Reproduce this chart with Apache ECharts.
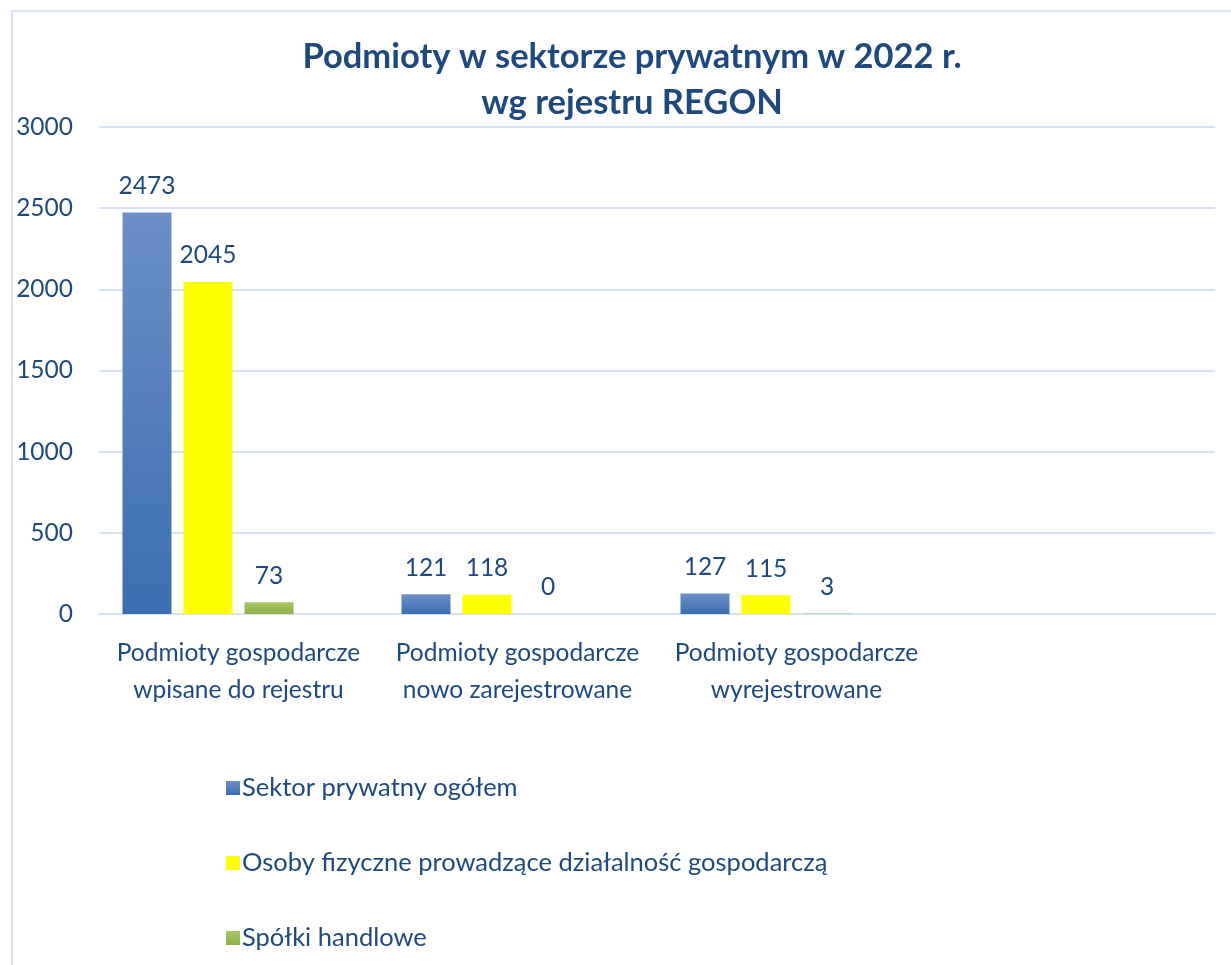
<!DOCTYPE html>
<html>
<head>
<meta charset="utf-8">
<script src="https://cdn.jsdelivr.net/npm/echarts@6/dist/echarts.min.js"></script>
<style>
html,body{margin:0;padding:0;background:#fff;}
#c{width:1231px;height:965px;}
</style>
</head>
<body>
<div id="c"></div>
<script>
const categories = ['Podmioty gospodarcze\nwpisane do rejestru', 'Podmioty gospodarcze\nnowo zarejestrowane', 'Podmioty gospodarcze\nwyrejestrowane', ''];
const seriesNames = ['Sektor prywatny ogółem', 'Osoby fizyczne prowadzące działalność gospodarczą', 'Spółki handlowe'];
const sektorOgolem = [2473, 121, 127, null];
const osobyFizyczne = [2045, 118, 115, null];
const spolkiHandlowe = [73, 0, 3, null];
const emptySeries = [null, null, null, null];
const yTicks = { min: 0, max: 3000, interval: 500 };

const textColor = '#1F497D';
const font = 'Lato';
const gridColor = '#D7E3F4';

const chart = echarts.init(document.getElementById('c'));
const label = { show: true, position: 'top', distance: 14, color: textColor, fontFamily: font, fontSize: 24.5 };
const barCommon = { type: 'bar', barWidth: 49, barGap: '24.5%', label: label };

chart.setOption({
  animation: false,
  backgroundColor: '#fff',
  graphic: [{
    type: 'rect', silent: true, z: -1,
    shape: { x: 12, y: 11, width: 1300, height: 1100 },
    style: { fill: 'none', stroke: '#D9E3F2', lineWidth: 2 }
  }],
  title: {
    text: 'Podmioty w sektorze prywatnym w 2022 r.\nwg rejestru REGON',
    left: 627, textAlign: 'center', top: 29,
    textStyle: { color: textColor, fontFamily: font, fontWeight: 'bold', fontSize: 34.5, lineHeight: 46 }
  },
  legend: {
    orient: 'vertical', left: 221, top: 770, itemGap: 49,
    itemWidth: 14, itemHeight: 14, icon: 'rect',
    data: seriesNames,
    textStyle: { color: textColor, fontFamily: font, fontSize: 25.5, padding: [0, 0, 0, -3] }
  },
  grid: { left: 99, right: 16, top: 127, height: 487, containLabel: false },
  xAxis: {
    type: 'category', data: categories,
    axisLine: { lineStyle: { color: gridColor, width: 2 } },
    axisTick: { show: false },
    axisLabel: { interval: 0, margin: 21, color: textColor, fontFamily: font, fontSize: 24.5, lineHeight: 37 }
  },
  yAxis: {
    type: 'value', min: yTicks.min, max: yTicks.max, interval: yTicks.interval,
    axisLine: { show: false }, axisTick: { show: false },
    splitLine: { lineStyle: { color: gridColor, width: 2 } },
    axisLabel: { margin: 26, color: textColor, fontFamily: font, fontSize: 24.5, formatter: v => String(v) }
  },
  series: [
    Object.assign({}, barCommon, { name: seriesNames[0], data: sektorOgolem,
      itemStyle: { color: new echarts.graphic.LinearGradient(0, 0, 0, 1, [{ offset: 0, color: '#6B8FC6' }, { offset: 1, color: '#3B6EB1' }]) } }),
    Object.assign({}, barCommon, { name: seriesNames[1], data: osobyFizyczne, itemStyle: { color: '#FFFF00' } }),
    Object.assign({}, barCommon, { name: seriesNames[2], data: spolkiHandlowe,
      itemStyle: { color: new echarts.graphic.LinearGradient(0, 0, 0, 1, [{ offset: 0, color: '#A8C763' }, { offset: 1, color: '#8DB04A' }]) } }),
    Object.assign({}, barCommon, { name: 'hidden', data: emptySeries, label: { show: false } })
  ]
});
</script>
</body>
</html>
